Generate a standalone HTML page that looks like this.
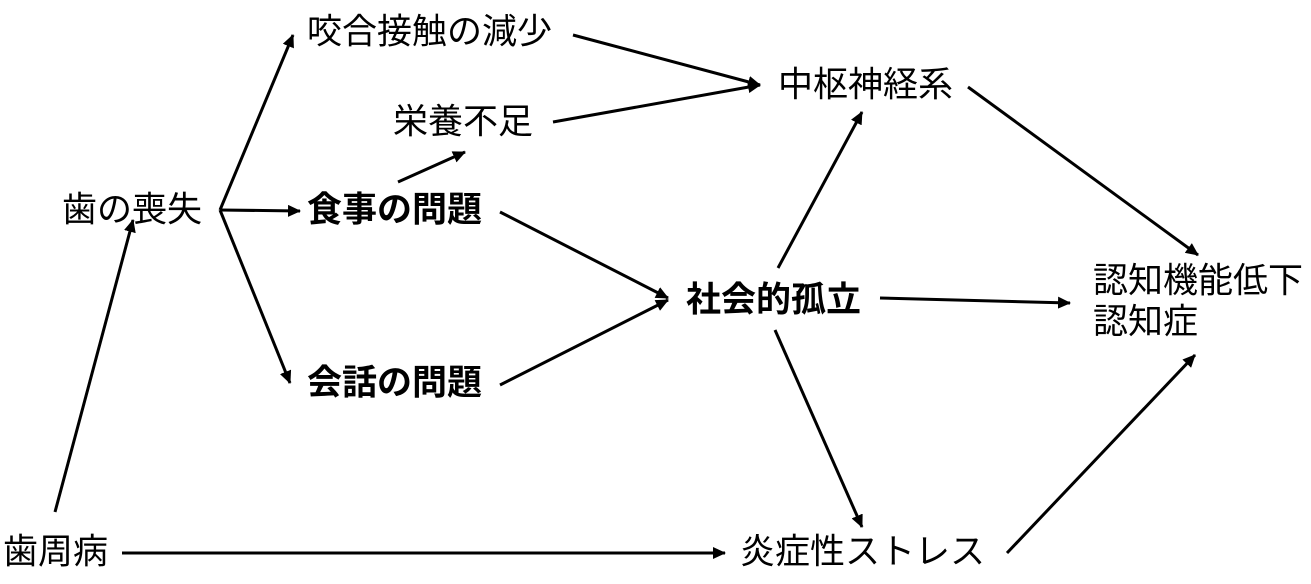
<!DOCTYPE html>
<html><head><meta charset="utf-8"><style>
html,body{margin:0;padding:0;background:#fff;}
svg{display:block}
text{font-family:"Liberation Sans","Noto Sans CJK JP",sans-serif;font-size:35px;fill:#000;dominant-baseline:central}
.b{font-weight:bold}
</style></head><body>
<svg width="1311" height="584" viewBox="0 0 1311 584" xmlns="http://www.w3.org/2000/svg">
<defs><marker id="a" markerWidth="13" markerHeight="12" refX="12" refY="6" orient="auto" markerUnits="userSpaceOnUse" viewBox="0 0 13 12"><path d="M0,0 L13,6 L0,12 z" fill="#000"/></marker>
</defs>
<g stroke="#000" stroke-width="3" fill="none" marker-end="url(#a)">
<line x1="220" y1="210" x2="293" y2="35"/>
<line x1="220" y1="210" x2="300" y2="211"/>
<line x1="220" y1="210" x2="290" y2="383"/>
<line x1="398" y1="182" x2="465" y2="152"/>
<line x1="573" y1="35" x2="760" y2="85"/>
<line x1="553" y1="122" x2="760" y2="85"/>
<line x1="500" y1="212" x2="668" y2="298"/>
<line x1="500" y1="385" x2="668" y2="300"/>
<line x1="778" y1="268" x2="862" y2="112"/>
<line x1="880" y1="298" x2="1070" y2="303"/>
<line x1="775" y1="330" x2="862" y2="527"/>
<line x1="968" y1="87" x2="1198" y2="255"/>
<line x1="55" y1="512" x2="133" y2="220"/>
<line x1="122" y1="553" x2="725" y2="553"/>
<line x1="1007" y1="553" x2="1195" y2="355"/>
</g>
<text x="307" y="32">咬合接触の減少</text>
<text x="393" y="122">栄養不足</text>
<text x="778" y="85">中枢神経系</text>
<text x="62" y="210">歯の喪失</text>
<text x="307" y="210" class="b">食事の問題</text>
<text x="686" y="300" class="b">社会的孤立</text>
<text x="1093" y="281">認知機能低下</text>
<text x="1093" y="322">認知症</text>
<text x="307" y="383" class="b">会話の問題</text>
<text x="3" y="552">歯周病</text>
<text x="740" y="552">炎症性ストレス</text>
</svg>
</body></html>
